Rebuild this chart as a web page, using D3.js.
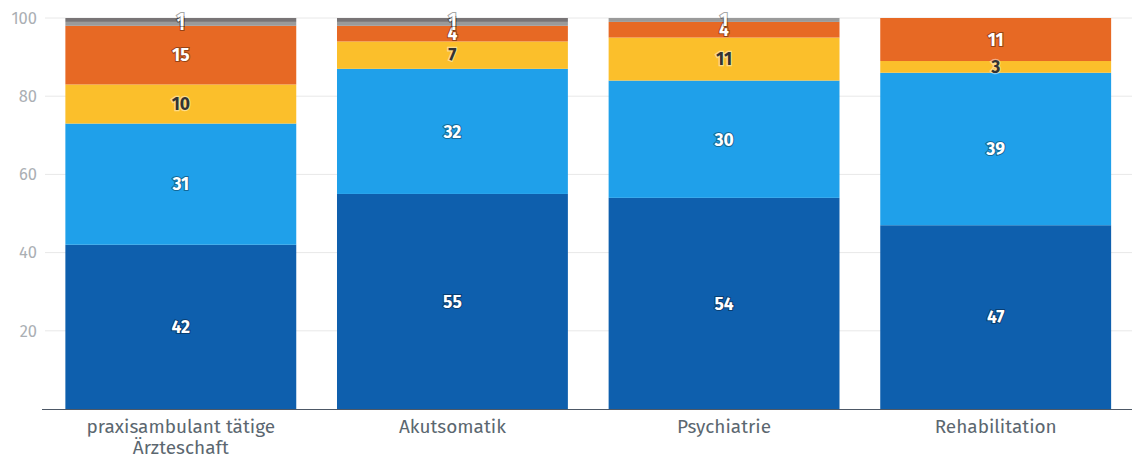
<!DOCTYPE html>
<html><head><meta charset="utf-8">
<script src="https://cdn.jsdelivr.net/npm/d3@7/dist/d3.min.js"></script>
<style>
body{margin:0;background:#fff;}
svg{display:block;font-family:"Fira Sans","Noto Sans","Open Sans",sans-serif;}
</style></head>
<body><svg id="chart" width="1132" height="459"></svg>
<script>
const categories = ["praxisambulant tätige\nÄrzteschaft", "Akutsomatik", "Psychiatrie", "Rehabilitation"];
const seriesNames = ["s1", "s2", "s3", "s4", "s5", "s6"];
const s1 = [42, 55, 54, 47];
const s2 = [31, 32, 30, 39];
const s3 = [10, 7, 11, 3];
const s4 = [15, 4, 4, 11];
const s5 = [1, 1, 1, 0];
const s6 = [1, 1, 0, 0];
const seriesValues = [s1, s2, s3, s4, s5, s6];
const seriesColors = ["#0e5fad", "#1fa0ea", "#fbbf2b", "#e76924", "#9a9a9a", "#787476"];
const labelDark = [false, false, true, false, false, false];
const yTicks = [20, 40, 60, 80, 100];

const svg = d3.select("#chart");
const margin = {top: 18, right: 0, bottom: 50, left: 45};
const W = 1132, H = 459;
const x = d3.scaleBand().domain(categories).range([margin.left, W - 0.5]).paddingInner(0.15).paddingOuter(0.075);
const y = d3.scaleLinear().domain([0, 100]).range([H - margin.bottom, margin.top]);

svg.append("g").selectAll("line").data(yTicks).join("line")
  .attr("x1", margin.left).attr("x2", W)
  .attr("y1", d => y(d)).attr("y2", d => y(d))
  .attr("stroke", "#e8e8e8").attr("stroke-width", 1);

svg.append("g").selectAll("text").data(yTicks).join("text")
  .attr("x", 37).attr("y", d => y(d)).attr("dy", "0.35em")
  .attr("text-anchor", "end").attr("fill", "#abafb4").attr("font-size", 16.5)
  .text(d => d);

const rows = categories.map((c, i) => {
  const o = {cat: c};
  seriesNames.forEach((s, k) => o[s] = seriesValues[k][i]);
  return o;
});
const stacked = d3.stack().keys(seriesNames)(rows);

const gBars = svg.append("g");
stacked.forEach((layer, k) => {
  gBars.append("g").attr("fill", seriesColors[k]).selectAll("rect").data(layer).join("rect")
    .attr("x", d => x(d.data.cat)).attr("width", x.bandwidth())
    .attr("y", d => y(d[1])).attr("height", d => Math.max(0, y(d[0]) - y(d[1])));
});

const gLab = svg.append("g").attr("font-weight", "bold").attr("font-size", 17.5).attr("text-anchor", "middle");
stacked.forEach((layer, k) => {
  const data = layer.filter(d => d[1] - d[0] > 0);
  const t = gLab.append("g").selectAll("text").data(data).join("text")
    .attr("x", d => x(d.data.cat) + x.bandwidth() / 2)
    .attr("y", d => y((d[0] + d[1]) / 2)).attr("dy", "0.36em")
    .text(d => d[1] - d[0]);
  if (labelDark[k]) {
    t.attr("fill", "#333").attr("stroke", "rgba(255,255,255,0.45)").attr("stroke-width", 2.5).attr("paint-order", "stroke");
  } else {
    t.attr("fill", "#fff").attr("stroke", "rgba(0,0,0,0.35)").attr("stroke-width", 2.2).attr("paint-order", "stroke");
  }
});

svg.append("line").attr("x1", 42).attr("x2", W).attr("y1", y(0) + 0.5).attr("y2", y(0) + 0.5)
  .attr("stroke", "#4d5866").attr("stroke-width", 1.2);

const gx = svg.append("g").attr("font-size", 19).attr("fill", "#5b6770").attr("text-anchor", "middle");
categories.forEach(c => {
  const lines = c.split("\n");
  const t = gx.append("text").attr("x", x(c) + x.bandwidth() / 2).attr("y", 433);
  lines.forEach((l, i) => t.append("tspan").attr("x", x(c) + x.bandwidth() / 2).attr("dy", i ? 21 : 0).text(l));
});
</script></body></html>
